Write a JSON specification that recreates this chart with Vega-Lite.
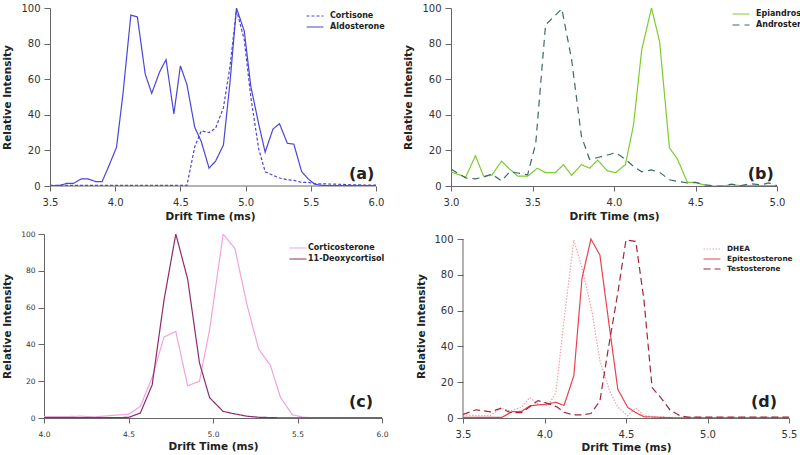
{
  "$schema": "https://vega.github.io/schema/vega-lite/v6.json",
  "background": "white",
  "padding": {"left": 2, "top": 3, "right": 0, "bottom": 0},
  "config": {
    "view": {"stroke": null},
    "font": "DejaVu Sans",
    "axis": {"grid": false, "domainColor": "#666", "tickColor": "#666", "labelColor": "#333", "titleColor": "#222", "labelFont": "DejaVu Sans", "titleFont": "DejaVu Sans", "titleFontWeight": "bold", "labelFontSize": 10, "titleFontSize": 10.5, "labelFlush": false, "labelOverlap": false},
    "legend": {"title": null, "orient": "none", "padding": 0, "labelFont": "DejaVu Sans", "labelFontWeight": "bold", "labelFontSize": 8, "labelColor": "#222", "symbolType": "M-2,0H2", "symbolSize": 72, "symbolStrokeWidth": 1.5, "labelOffset": 10, "rowPadding": 2},
    "line": {"strokeWidth": 1.2}
  },
  "resolve": {"scale": {"color": "independent", "strokeDash": "independent"}, "legend": {"color": "independent", "strokeDash": "independent"}},
  "datasets": {
    "a": [
      {"s": "Aldosterone", "t": 3.5, "v": 0}, {"s": "Aldosterone", "t": 3.58, "v": 0.4}, {"s": "Aldosterone", "t": 3.63, "v": 1.5}, {"s": "Aldosterone", "t": 3.68, "v": 1.5}, {"s": "Aldosterone", "t": 3.74, "v": 4}, {"s": "Aldosterone", "t": 3.79, "v": 4}, {"s": "Aldosterone", "t": 3.85, "v": 2.5}, {"s": "Aldosterone", "t": 3.9, "v": 2.5}, {"s": "Aldosterone", "t": 3.95, "v": 11}, {"s": "Aldosterone", "t": 4.01, "v": 21.7}, {"s": "Aldosterone", "t": 4.06, "v": 52}, {"s": "Aldosterone", "t": 4.12, "v": 96}, {"s": "Aldosterone", "t": 4.17, "v": 95}, {"s": "Aldosterone", "t": 4.23, "v": 63}, {"s": "Aldosterone", "t": 4.28, "v": 52}, {"s": "Aldosterone", "t": 4.34, "v": 64}, {"s": "Aldosterone", "t": 4.39, "v": 71}, {"s": "Aldosterone", "t": 4.45, "v": 40.5}, {"s": "Aldosterone", "t": 4.5, "v": 67.5}, {"s": "Aldosterone", "t": 4.55, "v": 57}, {"s": "Aldosterone", "t": 4.61, "v": 33}, {"s": "Aldosterone", "t": 4.66, "v": 25}, {"s": "Aldosterone", "t": 4.72, "v": 10}, {"s": "Aldosterone", "t": 4.77, "v": 14}, {"s": "Aldosterone", "t": 4.83, "v": 23}, {"s": "Aldosterone", "t": 4.88, "v": 58}, {"s": "Aldosterone", "t": 4.93, "v": 100}, {"s": "Aldosterone", "t": 4.99, "v": 87}, {"s": "Aldosterone", "t": 5.04, "v": 56}, {"s": "Aldosterone", "t": 5.1, "v": 35}, {"s": "Aldosterone", "t": 5.15, "v": 19}, {"s": "Aldosterone", "t": 5.21, "v": 32}, {"s": "Aldosterone", "t": 5.26, "v": 35}, {"s": "Aldosterone", "t": 5.32, "v": 24}, {"s": "Aldosterone", "t": 5.37, "v": 23.5}, {"s": "Aldosterone", "t": 5.43, "v": 8}, {"s": "Aldosterone", "t": 5.48, "v": 4}, {"s": "Aldosterone", "t": 5.53, "v": 1}, {"s": "Aldosterone", "t": 5.59, "v": 0.3}, {"s": "Aldosterone", "t": 5.75, "v": 0.2}, {"s": "Aldosterone", "t": 6.0, "v": 0.2},
      {"s": "Cortisone", "t": 3.5, "v": 0.3}, {"s": "Cortisone", "t": 4.0, "v": 0.3}, {"s": "Cortisone", "t": 4.55, "v": 0.3}, {"s": "Cortisone", "t": 4.61, "v": 22}, {"s": "Cortisone", "t": 4.66, "v": 31}, {"s": "Cortisone", "t": 4.72, "v": 30}, {"s": "Cortisone", "t": 4.77, "v": 32.5}, {"s": "Cortisone", "t": 4.83, "v": 44}, {"s": "Cortisone", "t": 4.88, "v": 67}, {"s": "Cortisone", "t": 4.93, "v": 99}, {"s": "Cortisone", "t": 4.99, "v": 82}, {"s": "Cortisone", "t": 5.04, "v": 50}, {"s": "Cortisone", "t": 5.1, "v": 21}, {"s": "Cortisone", "t": 5.15, "v": 8}, {"s": "Cortisone", "t": 5.21, "v": 6}, {"s": "Cortisone", "t": 5.26, "v": 4.5}, {"s": "Cortisone", "t": 5.32, "v": 3.5}, {"s": "Cortisone", "t": 5.37, "v": 3.2}, {"s": "Cortisone", "t": 5.43, "v": 2}, {"s": "Cortisone", "t": 5.48, "v": 2}, {"s": "Cortisone", "t": 5.53, "v": 1.3}, {"s": "Cortisone", "t": 5.59, "v": 1.2}, {"s": "Cortisone", "t": 5.7, "v": 1}, {"s": "Cortisone", "t": 5.85, "v": 0.6}, {"s": "Cortisone", "t": 6.0, "v": 0.5}
    ],
    "b": [
      {"s": "Epiandrosterone", "t": 3.0, "v": 8}, {"s": "Epiandrosterone", "t": 3.09, "v": 5}, {"s": "Epiandrosterone", "t": 3.15, "v": 17}, {"s": "Epiandrosterone", "t": 3.2, "v": 5.5}, {"s": "Epiandrosterone", "t": 3.25, "v": 6}, {"s": "Epiandrosterone", "t": 3.31, "v": 14}, {"s": "Epiandrosterone", "t": 3.36, "v": 9.5}, {"s": "Epiandrosterone", "t": 3.41, "v": 5.5}, {"s": "Epiandrosterone", "t": 3.47, "v": 5.5}, {"s": "Epiandrosterone", "t": 3.53, "v": 10}, {"s": "Epiandrosterone", "t": 3.58, "v": 7.5}, {"s": "Epiandrosterone", "t": 3.64, "v": 7.5}, {"s": "Epiandrosterone", "t": 3.69, "v": 12}, {"s": "Epiandrosterone", "t": 3.74, "v": 6}, {"s": "Epiandrosterone", "t": 3.8, "v": 12}, {"s": "Epiandrosterone", "t": 3.85, "v": 10}, {"s": "Epiandrosterone", "t": 3.9, "v": 14.5}, {"s": "Epiandrosterone", "t": 3.96, "v": 8.5}, {"s": "Epiandrosterone", "t": 4.01, "v": 7.5}, {"s": "Epiandrosterone", "t": 4.07, "v": 12}, {"s": "Epiandrosterone", "t": 4.12, "v": 34.5}, {"s": "Epiandrosterone", "t": 4.17, "v": 76.5}, {"s": "Epiandrosterone", "t": 4.23, "v": 100}, {"s": "Epiandrosterone", "t": 4.28, "v": 81}, {"s": "Epiandrosterone", "t": 4.34, "v": 21.5}, {"s": "Epiandrosterone", "t": 4.39, "v": 15}, {"s": "Epiandrosterone", "t": 4.45, "v": 2}, {"s": "Epiandrosterone", "t": 4.5, "v": 2}, {"s": "Epiandrosterone", "t": 4.56, "v": 0.4}, {"s": "Epiandrosterone", "t": 4.61, "v": 0}, {"s": "Epiandrosterone", "t": 4.67, "v": 0}, {"s": "Epiandrosterone", "t": 4.72, "v": 0.7}, {"s": "Epiandrosterone", "t": 4.78, "v": 0.2}, {"s": "Epiandrosterone", "t": 4.9, "v": 0.2}, {"s": "Epiandrosterone", "t": 5.0, "v": 0.2},
      {"s": "Androsterone", "t": 3.0, "v": 9.5}, {"s": "Androsterone", "t": 3.09, "v": 4.5}, {"s": "Androsterone", "t": 3.15, "v": 4}, {"s": "Androsterone", "t": 3.2, "v": 5}, {"s": "Androsterone", "t": 3.25, "v": 6.8}, {"s": "Androsterone", "t": 3.31, "v": 2.8}, {"s": "Androsterone", "t": 3.36, "v": 8}, {"s": "Androsterone", "t": 3.41, "v": 7.3}, {"s": "Androsterone", "t": 3.47, "v": 6.3}, {"s": "Androsterone", "t": 3.52, "v": 24}, {"s": "Androsterone", "t": 3.58, "v": 90.5}, {"s": "Androsterone", "t": 3.63, "v": 95}, {"s": "Androsterone", "t": 3.68, "v": 99.5}, {"s": "Androsterone", "t": 3.74, "v": 71}, {"s": "Androsterone", "t": 3.8, "v": 28}, {"s": "Androsterone", "t": 3.85, "v": 15}, {"s": "Androsterone", "t": 3.9, "v": 16}, {"s": "Androsterone", "t": 3.96, "v": 17.4}, {"s": "Androsterone", "t": 4.01, "v": 18.7}, {"s": "Androsterone", "t": 4.07, "v": 15}, {"s": "Androsterone", "t": 4.12, "v": 11}, {"s": "Androsterone", "t": 4.17, "v": 8}, {"s": "Androsterone", "t": 4.23, "v": 9}, {"s": "Androsterone", "t": 4.28, "v": 7.7}, {"s": "Androsterone", "t": 4.34, "v": 3.5}, {"s": "Androsterone", "t": 4.39, "v": 2.6}, {"s": "Androsterone", "t": 4.45, "v": 1.7}, {"s": "Androsterone", "t": 4.5, "v": 2}, {"s": "Androsterone", "t": 4.56, "v": 0.7}, {"s": "Androsterone", "t": 4.61, "v": 0}, {"s": "Androsterone", "t": 4.67, "v": 0}, {"s": "Androsterone", "t": 4.72, "v": 1}, {"s": "Androsterone", "t": 4.78, "v": 0.2}, {"s": "Androsterone", "t": 4.84, "v": 1.3}, {"s": "Androsterone", "t": 4.9, "v": 0.7}, {"s": "Androsterone", "t": 4.95, "v": 1.7}, {"s": "Androsterone", "t": 5.0, "v": 0.2}
    ],
    "c": [
      {"s": "Corticosterone", "t": 4.0, "v": 0.7}, {"s": "Corticosterone", "t": 4.1, "v": 0.7}, {"s": "Corticosterone", "t": 4.22, "v": 1}, {"s": "Corticosterone", "t": 4.3, "v": 0.6}, {"s": "Corticosterone", "t": 4.43, "v": 1.6}, {"s": "Corticosterone", "t": 4.5, "v": 2}, {"s": "Corticosterone", "t": 4.57, "v": 6.3}, {"s": "Corticosterone", "t": 4.64, "v": 22}, {"s": "Corticosterone", "t": 4.71, "v": 44}, {"s": "Corticosterone", "t": 4.78, "v": 47}, {"s": "Corticosterone", "t": 4.85, "v": 17.5}, {"s": "Corticosterone", "t": 4.92, "v": 20}, {"s": "Corticosterone", "t": 4.98, "v": 48}, {"s": "Corticosterone", "t": 5.06, "v": 100}, {"s": "Corticosterone", "t": 5.13, "v": 92}, {"s": "Corticosterone", "t": 5.2, "v": 62}, {"s": "Corticosterone", "t": 5.27, "v": 37.5}, {"s": "Corticosterone", "t": 5.34, "v": 28.5}, {"s": "Corticosterone", "t": 5.4, "v": 11}, {"s": "Corticosterone", "t": 5.47, "v": 1.8}, {"s": "Corticosterone", "t": 5.54, "v": 0.3}, {"s": "Corticosterone", "t": 5.7, "v": 0.2}, {"s": "Corticosterone", "t": 6.0, "v": 0.2},
      {"s": "11-Deoxycortisol", "t": 4.0, "v": 0.2}, {"s": "11-Deoxycortisol", "t": 4.3, "v": 0.2}, {"s": "11-Deoxycortisol", "t": 4.5, "v": 0.3}, {"s": "11-Deoxycortisol", "t": 4.57, "v": 2.7}, {"s": "11-Deoxycortisol", "t": 4.64, "v": 18}, {"s": "11-Deoxycortisol", "t": 4.71, "v": 64}, {"s": "11-Deoxycortisol", "t": 4.78, "v": 100}, {"s": "11-Deoxycortisol", "t": 4.85, "v": 75.5}, {"s": "11-Deoxycortisol", "t": 4.92, "v": 30}, {"s": "11-Deoxycortisol", "t": 4.98, "v": 11}, {"s": "11-Deoxycortisol", "t": 5.06, "v": 3.6}, {"s": "11-Deoxycortisol", "t": 5.13, "v": 2.2}, {"s": "11-Deoxycortisol", "t": 5.2, "v": 1}, {"s": "11-Deoxycortisol", "t": 5.27, "v": 0.4}, {"s": "11-Deoxycortisol", "t": 5.4, "v": 0.1}, {"s": "11-Deoxycortisol", "t": 6.0, "v": 0.1}
    ],
    "d": [
      {"s": "DHEA", "t": 3.5, "v": 1.7}, {"s": "DHEA", "t": 3.61, "v": 1.3}, {"s": "DHEA", "t": 3.67, "v": 1.3}, {"s": "DHEA", "t": 3.73, "v": 5.6}, {"s": "DHEA", "t": 3.79, "v": 4}, {"s": "DHEA", "t": 3.86, "v": 6}, {"s": "DHEA", "t": 3.91, "v": 11.4}, {"s": "DHEA", "t": 3.96, "v": 7.8}, {"s": "DHEA", "t": 4.02, "v": 7}, {"s": "DHEA", "t": 4.07, "v": 14}, {"s": "DHEA", "t": 4.12, "v": 55}, {"s": "DHEA", "t": 4.18, "v": 99.4}, {"s": "DHEA", "t": 4.23, "v": 84}, {"s": "DHEA", "t": 4.29, "v": 60}, {"s": "DHEA", "t": 4.34, "v": 32}, {"s": "DHEA", "t": 4.4, "v": 15}, {"s": "DHEA", "t": 4.45, "v": 6}, {"s": "DHEA", "t": 4.51, "v": 1.3}, {"s": "DHEA", "t": 4.56, "v": 5.6}, {"s": "DHEA", "t": 4.61, "v": 1.3}, {"s": "DHEA", "t": 4.67, "v": 0.8}, {"s": "DHEA", "t": 4.8, "v": 0.3}, {"s": "DHEA", "t": 5.5, "v": 0.3},
      {"s": "Epitestosterone", "t": 3.5, "v": 0.4}, {"s": "Epitestosterone", "t": 3.74, "v": 0.4}, {"s": "Epitestosterone", "t": 3.8, "v": 3.5}, {"s": "Epitestosterone", "t": 3.86, "v": 3.7}, {"s": "Epitestosterone", "t": 3.91, "v": 6.8}, {"s": "Epitestosterone", "t": 3.96, "v": 7.3}, {"s": "Epitestosterone", "t": 4.02, "v": 7.8}, {"s": "Epitestosterone", "t": 4.07, "v": 8.8}, {"s": "Epitestosterone", "t": 4.12, "v": 7}, {"s": "Epitestosterone", "t": 4.18, "v": 23.7}, {"s": "Epitestosterone", "t": 4.23, "v": 78}, {"s": "Epitestosterone", "t": 4.285, "v": 100}, {"s": "Epitestosterone", "t": 4.34, "v": 91}, {"s": "Epitestosterone", "t": 4.395, "v": 53}, {"s": "Epitestosterone", "t": 4.45, "v": 16}, {"s": "Epitestosterone", "t": 4.51, "v": 6}, {"s": "Epitestosterone", "t": 4.56, "v": 3}, {"s": "Epitestosterone", "t": 4.61, "v": 0.7}, {"s": "Epitestosterone", "t": 4.67, "v": 0.5}, {"s": "Epitestosterone", "t": 4.8, "v": 0.1}, {"s": "Epitestosterone", "t": 5.5, "v": 0.1},
      {"s": "Testosterone", "t": 3.5, "v": 2}, {"s": "Testosterone", "t": 3.58, "v": 4.6}, {"s": "Testosterone", "t": 3.67, "v": 3.4}, {"s": "Testosterone", "t": 3.73, "v": 5.4}, {"s": "Testosterone", "t": 3.79, "v": 3.1}, {"s": "Testosterone", "t": 3.86, "v": 3}, {"s": "Testosterone", "t": 3.91, "v": 6.3}, {"s": "Testosterone", "t": 3.96, "v": 9.7}, {"s": "Testosterone", "t": 4.02, "v": 8.2}, {"s": "Testosterone", "t": 4.08, "v": 6}, {"s": "Testosterone", "t": 4.12, "v": 3.2}, {"s": "Testosterone", "t": 4.18, "v": 1.7}, {"s": "Testosterone", "t": 4.23, "v": 1.7}, {"s": "Testosterone", "t": 4.285, "v": 2.5}, {"s": "Testosterone", "t": 4.34, "v": 9.5}, {"s": "Testosterone", "t": 4.39, "v": 38}, {"s": "Testosterone", "t": 4.45, "v": 70}, {"s": "Testosterone", "t": 4.5, "v": 99.5}, {"s": "Testosterone", "t": 4.56, "v": 98.7}, {"s": "Testosterone", "t": 4.61, "v": 66}, {"s": "Testosterone", "t": 4.66, "v": 17}, {"s": "Testosterone", "t": 4.72, "v": 10.6}, {"s": "Testosterone", "t": 4.77, "v": 4.5}, {"s": "Testosterone", "t": 4.83, "v": 1.3}, {"s": "Testosterone", "t": 4.88, "v": 0.5}, {"s": "Testosterone", "t": 5.5, "v": 0.5}
    ]
  },
  "spacing": 8,
  "vconcat": [
    {
      "spacing": 18,
      "resolve": {"scale": {"color": "independent", "strokeDash": "independent"}, "legend": {"color": "independent", "strokeDash": "independent"}},
      "hconcat": [
        {
          "width": 332, "height": 178,
          "layer": [
            {
              "data": {"name": "a"},
              "mark": {"type": "line", "clip": true},
              "encoding": {
                "x": {"field": "t", "type": "quantitative", "scale": {"domain": [3.454, 6.0], "nice": false, "zero": false}, "axis": {"title": "Drift Time (ms)", "values": [3.5, 4.0, 4.5, 5.0, 5.5, 6.0], "format": ".1f", "tickSize": 5, "labelPadding": 6, "titlePadding": 4, "labelOverlap": false, "domain": false}},
                "y": {"field": "v", "type": "quantitative", "scale": {"domain": [0, 100], "nice": false}, "axis": {"title": "Relative Intensity", "values": [0, 20, 40, 60, 80, 100], "tickSize": 6, "labelPadding": 4, "titlePadding": 8, "labelOverlap": false, "offset": -6}},
                "color": {"field": "s", "type": "nominal", "scale": {"domain": ["Cortisone", "Aldosterone"], "range": ["#4b45d6", "#4b45d6"]}, "legend": {"legendX": 266, "legendY": 3}},
                "strokeDash": {"field": "s", "type": "nominal", "scale": {"domain": ["Cortisone", "Aldosterone"], "range": [[3, 2], [1, 0]]}, "legend": {"legendX": 266, "legendY": 3}}
              }
            },
            {
              "data": {"values": [{"label": "(a)"}]},
              "mark": {"type": "text", "fontSize": 16, "fontWeight": "bold", "color": "#222"},
              "encoding": {
                "x": {"datum": 5.89, "type": "quantitative", "axis": {"title": "Drift Time (ms)", "values": [3.5, 4.0, 4.5, 5.0, 5.5, 6.0], "format": ".1f", "tickSize": 5, "labelPadding": 6, "titlePadding": 4, "labelOverlap": false, "domain": false}},
                "y": {"datum": 6.7, "type": "quantitative", "axis": {"title": "Relative Intensity", "values": [0, 20, 40, 60, 80, 100], "tickSize": 6, "labelPadding": 4, "titlePadding": 8, "labelOverlap": false, "offset": -6}},
                "text": {"field": "label"}
              }
            },
            {
              "data": {"values": [{"label": "axis"}]},
              "mark": {"type": "rule", "color": "#666", "strokeWidth": 1},
              "encoding": {
                "x": {"datum": 3.5, "type": "quantitative", "axis": {"title": "Drift Time (ms)", "values": [3.5, 4.0, 4.5, 5.0, 5.5, 6.0], "format": ".1f", "tickSize": 5, "labelPadding": 6, "titlePadding": 4, "labelOverlap": false, "domain": false}},
                "x2": {"datum": 6.0},
                "y": {"datum": 0, "type": "quantitative", "axis": {"title": "Relative Intensity", "values": [0, 20, 40, 60, 80, 100], "tickSize": 6, "labelPadding": 4, "titlePadding": 8, "labelOverlap": false, "offset": -6}}
              }
            }
          ]
        },
        {
          "width": 326, "height": 178,
          "layer": [
            {
              "data": {"name": "b"},
              "mark": {"type": "line", "clip": true},
              "encoding": {
                "x": {"field": "t", "type": "quantitative", "scale": {"domain": [3.0, 5.0], "nice": false, "zero": false}, "axis": {"title": "Drift Time (ms)", "values": [3.0, 3.5, 4.0, 4.5, 5.0], "format": ".1f", "tickSize": 5, "labelPadding": 6, "titlePadding": 4, "labelOverlap": false}},
                "y": {"field": "v", "type": "quantitative", "scale": {"domain": [0, 100], "nice": false}, "axis": {"title": "Relative Intensity", "values": [0, 20, 40, 60, 80, 100], "tickSize": 6, "labelPadding": 4, "titlePadding": 8, "labelOverlap": false}},
                "color": {"field": "s", "type": "nominal", "scale": {"domain": ["Epiandrosterone", "Androsterone"], "range": ["#7ccc2c", "#3b6b68"]}, "legend": {"legendX": 285, "legendY": 1}},
                "strokeDash": {"field": "s", "type": "nominal", "scale": {"domain": ["Epiandrosterone", "Androsterone"], "range": [[1, 0], [7, 5]]}, "legend": {"legendX": 285, "legendY": 1}}
              }
            },
            {
              "data": {"values": [{"label": "(b)"}]},
              "mark": {"type": "text", "fontSize": 16, "fontWeight": "bold", "color": "#222"},
              "encoding": {
                "x": {"datum": 4.9, "type": "quantitative", "axis": {"title": "Drift Time (ms)", "values": [3.0, 3.5, 4.0, 4.5, 5.0], "format": ".1f", "tickSize": 5, "labelPadding": 6, "titlePadding": 4, "labelOverlap": false}},
                "y": {"datum": 6.7, "type": "quantitative", "axis": {"title": "Relative Intensity", "values": [0, 20, 40, 60, 80, 100], "tickSize": 6, "labelPadding": 4, "titlePadding": 8, "labelOverlap": false}},
                "text": {"field": "label"}
              }
            }
          ]
        }
      ]
    },
    {
      "spacing": 28,
      "resolve": {"scale": {"color": "independent", "strokeDash": "independent"}, "legend": {"color": "independent", "strokeDash": "independent"}},
      "hconcat": [
        {
          "width": 338, "height": 184,
          "layer": [
            {
              "data": {"name": "c"},
              "mark": {"type": "line", "clip": true},
              "encoding": {
                "x": {"field": "t", "type": "quantitative", "scale": {"domain": [4.0, 6.0], "nice": false, "zero": false}, "axis": {"title": "Drift Time (ms)", "values": [4.0, 4.5, 5.0, 5.5, 6.0], "format": ".1f", "tickSize": 5, "labelPadding": 7, "titlePadding": 4, "labelFontSize": 7.5, "labelOverlap": false}},
                "y": {"field": "v", "type": "quantitative", "scale": {"domain": [0, 100], "nice": false}, "axis": {"title": "Relative Intensity", "values": [0, 20, 40, 60, 80, 100], "tickSize": 6, "labelPadding": 3, "titlePadding": 8, "labelFontSize": 7.5, "labelOverlap": false}},
                "color": {"field": "s", "type": "nominal", "scale": {"domain": ["Corticosterone", "11-Deoxycortisol"], "range": ["#f0a3dc", "#8c2a70"]}, "legend": {"legendX": 249, "legendY": 9, "labelOffset": 5}},
                "strokeDash": {"field": "s", "type": "nominal", "scale": {"domain": ["Corticosterone", "11-Deoxycortisol"], "range": [[1, 0], [1, 0]]}, "legend": {"legendX": 249, "legendY": 9, "labelOffset": 5}}
              }
            },
            {
              "data": {"values": [{"label": "(c)"}]},
              "mark": {"type": "text", "fontSize": 16, "fontWeight": "bold", "color": "#222"},
              "encoding": {
                "x": {"datum": 5.876, "type": "quantitative", "axis": {"title": "Drift Time (ms)", "values": [4.0, 4.5, 5.0, 5.5, 6.0], "format": ".1f", "tickSize": 5, "labelPadding": 7, "titlePadding": 4, "labelFontSize": 7.5, "labelOverlap": false}},
                "y": {"datum": 8.7, "type": "quantitative", "axis": {"title": "Relative Intensity", "values": [0, 20, 40, 60, 80, 100], "tickSize": 6, "labelPadding": 3, "titlePadding": 8, "labelFontSize": 7.5, "labelOverlap": false}},
                "text": {"field": "label"}
              }
            }
          ]
        },
        {
          "width": 326, "height": 184,
          "layer": [
            {
              "data": {"name": "d"},
              "mark": {"type": "line", "clip": true},
              "encoding": {
                "x": {"field": "t", "type": "quantitative", "scale": {"domain": [3.5, 5.5], "nice": false, "zero": false}, "axis": {"title": "Drift Time (ms)", "values": [3.5, 4.0, 4.5, 5.0, 5.5], "format": ".1f", "tickSize": 5, "labelPadding": 6, "titlePadding": 3, "labelOverlap": false}},
                "y": {"field": "v", "type": "quantitative", "scale": {"domain": [0, 102.8], "nice": false}, "axis": {"title": "Relative Intensity", "values": [0, 20, 40, 60, 80, 100], "tickSize": 6, "labelPadding": 4, "titlePadding": 7, "labelOverlap": false, "domain": false}},
                "color": {"field": "s", "type": "nominal", "scale": {"domain": ["DHEA", "Epitestosterone", "Testosterone"], "range": ["#f2a0a8", "#e8414f", "#a3253a"]}, "legend": {"legendX": 244, "legendY": 10, "labelFontSize": 7.3, "rowPadding": 1}},
                "strokeDash": {"field": "s", "type": "nominal", "scale": {"domain": ["DHEA", "Epitestosterone", "Testosterone"], "range": [[1.5, 1.5], [1, 0], [7, 4]]}, "legend": {"legendX": 244, "legendY": 10, "labelFontSize": 7.3, "rowPadding": 1}}
              }
            },
            {
              "data": {"values": [{"label": "(d)"}]},
              "mark": {"type": "text", "fontSize": 16, "fontWeight": "bold", "color": "#222"},
              "encoding": {
                "x": {"datum": 5.347, "type": "quantitative", "axis": {"title": "Drift Time (ms)", "values": [3.5, 4.0, 4.5, 5.0, 5.5], "format": ".1f", "tickSize": 5, "labelPadding": 6, "titlePadding": 3, "labelOverlap": false}},
                "y": {"datum": 8.9, "type": "quantitative", "axis": {"title": "Relative Intensity", "values": [0, 20, 40, 60, 80, 100], "tickSize": 6, "labelPadding": 4, "titlePadding": 7, "labelOverlap": false, "domain": false}},
                "text": {"field": "label"}
              }
            },
            {
              "data": {"values": [{"label": "axis"}]},
              "mark": {"type": "rule", "color": "#666", "strokeWidth": 1},
              "encoding": {
                "x": {"datum": 3.5, "type": "quantitative", "axis": {"title": "Drift Time (ms)", "values": [3.5, 4.0, 4.5, 5.0, 5.5], "format": ".1f", "tickSize": 5, "labelPadding": 6, "titlePadding": 3, "labelOverlap": false}},
                "y": {"datum": 0, "type": "quantitative", "axis": {"title": "Relative Intensity", "values": [0, 20, 40, 60, 80, 100], "tickSize": 6, "labelPadding": 4, "titlePadding": 7, "labelOverlap": false, "domain": false}},
                "y2": {"datum": 100}
              }
            }
          ]
        }
      ]
    }
  ]
}
